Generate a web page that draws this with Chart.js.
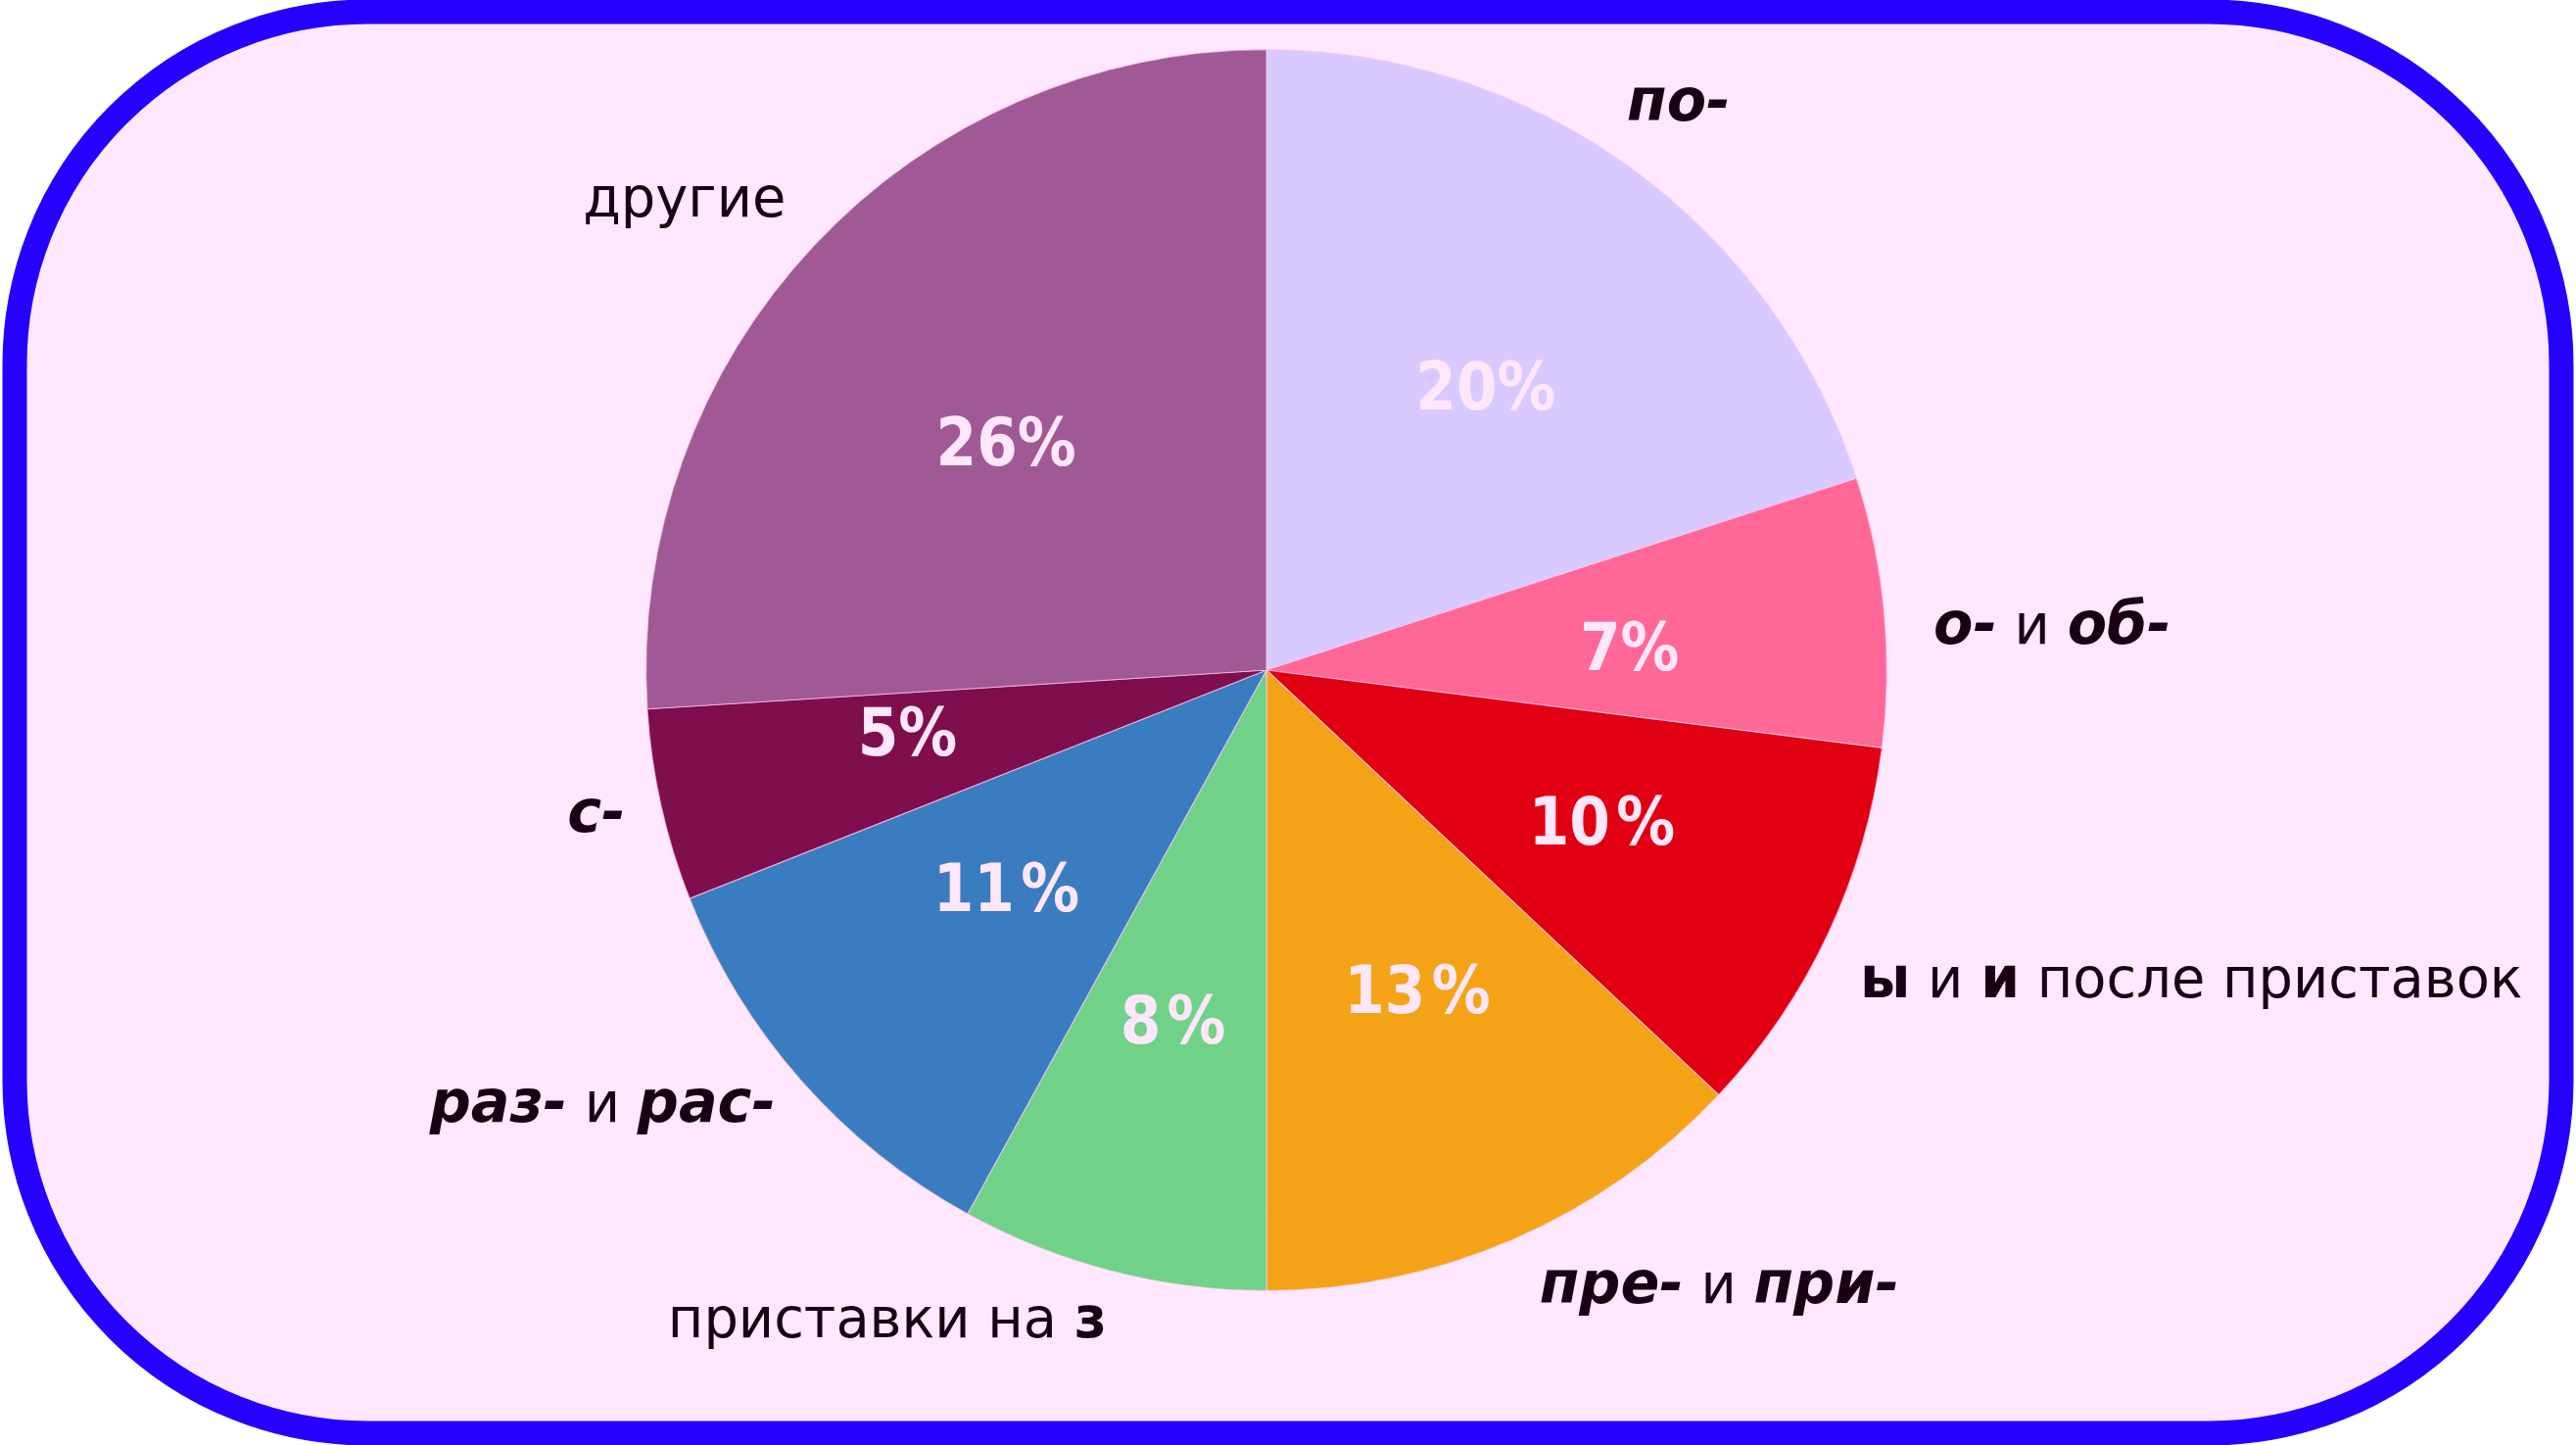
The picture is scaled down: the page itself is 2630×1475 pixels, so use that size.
<!DOCTYPE html>
<html><head><meta charset="utf-8">
<script src="https://cdn.jsdelivr.net/npm/chart.js@4"></script>
<style>html,body{margin:0;padding:0;background:#fff;overflow:hidden}canvas{display:block}</style>
</head><body>
<canvas id="c" width="2630" height="1475"></canvas>
<script>
// ---- data ----
const categories = ['по-', 'о- и об-', 'ы и и после приставок', 'пре- и при-', 'приставки на з', 'раз- и рас-', 'с-', 'другие'];
const values = [20, 7, 10, 13, 8, 11, 5, 26];
const percentLabels = ['20%', '7%', '10 %', '13 %', '8 %', '11 %', '5%', '26%'];

// ---- styling ----
const sliceColors = ['#d8caff', '#ff6896', '#e00012', '#f5a316', '#70d288', '#3a7cc0', '#7e0e4e', '#a05994'];
// per-word font style of each category label: bi = bold italic, b = bold, r = regular
const wordStyles = [
  ['bi'],
  ['bi', 'r', 'bi'],
  ['b', 'r', 'b', 'r', 'r'],
  ['bi', 'r', 'bi'],
  ['r', 'r', 'b'],
  ['bi', 'r', 'bi'],
  ['bi'],
  ['r']
];
// small hand nudges (px) of the outer labels and inner percentages
const labelNudge = [[-34, -23], [0, 22], [-13, 27], [7, 3], [7, 3], [12, -7], [13, 0], [8, -10]];
const pctNudge = [[8, 6], [5, 10], [10, -3], [8, -12], [-4, 0], [10, -22], [-8, -18], [2, 18]];

const FAMILY = '"DejaVu Sans", "Noto Sans", sans-serif';
const fonts = {
  bi: 'italic bold 60px ' + FAMILY,
  b: 'bold 58px ' + FAMILY,
  r: '57px ' + FAMILY
};
const LABEL_SCALE_X = 0.98;
const PCT_SIZE = 68;
const PCT_FONT = 'bold ' + PCT_SIZE + 'px ' + FAMILY;
const PCT_SCALE_X = 0.88;
const LABEL_COLOR = '#1a0012';
const PCT_COLOR = '#ffe6fb';

const frame = {
  id: 'frame',
  beforeDraw(chart) {
    const ctx = chart.ctx;
    const W = chart.width, H = chart.height;
    ctx.save();
    ctx.fillStyle = '#ffffff';
    ctx.fillRect(0, 0, W, H);
    const x = 15, y = 12, w = W - 30, h = H - 24, r = 360;
    ctx.beginPath();
    ctx.moveTo(x + r, y);
    ctx.lineTo(x + w - r, y);
    ctx.arcTo(x + w, y, x + w, y + r, r);
    ctx.lineTo(x + w, y + h - r);
    ctx.arcTo(x + w, y + h, x + w - r, y + h, r);
    ctx.lineTo(x + r, y + h);
    ctx.arcTo(x, y + h, x, y + h - r, r);
    ctx.lineTo(x, y + r);
    ctx.arcTo(x, y, x + r, y, r);
    ctx.closePath();
    ctx.fillStyle = '#ffe8fe';
    ctx.fill();
    ctx.lineWidth = 25;
    ctx.strokeStyle = '#2600ff';
    ctx.stroke();
    ctx.restore();
  }
};

function drawRich(ctx, runs, x, y, align) {
  ctx.save();
  ctx.translate(x, y);
  ctx.scale(LABEL_SCALE_X, 1);
  ctx.textBaseline = 'alphabetic';
  ctx.textAlign = 'left';
  ctx.fillStyle = LABEL_COLOR;
  let total = 0;
  const widths = runs.map(([t, s]) => { ctx.font = fonts[s]; const m = ctx.measureText(t).width; total += m; return m; });
  let cx = align === 'right' ? -total : (align === 'center' ? -total / 2 : 0);
  const base = 0.27 * 58;
  runs.forEach(([t, s], i) => {
    ctx.font = fonts[s];
    ctx.fillText(t, cx, base);
    cx += widths[i];
  });
  ctx.restore();
}

function drawPct(ctx, text, x, y) {
  ctx.save();
  ctx.translate(x, y);
  ctx.scale(PCT_SCALE_X, 1);
  ctx.font = PCT_FONT;
  ctx.fillStyle = PCT_COLOR;
  ctx.textAlign = 'left';
  ctx.textBaseline = 'alphabetic';
  const parts = text.split(' ');
  const gap = 7;
  const ws = parts.map(p => ctx.measureText(p).width);
  const total = ws.reduce((a, b) => a + b, 0) + gap * (parts.length - 1);
  let cx = -total / 2;
  parts.forEach((p, i) => { ctx.fillText(p, cx, 0.365 * PCT_SIZE); cx += ws[i] + gap; });
  ctx.restore();
}

const labelsPlugin = {
  id: 'sliceLabels',
  afterDatasetsDraw(chart) {
    const ctx = chart.ctx;
    const meta = chart.getDatasetMeta(0);
    meta.data.forEach((arc, i) => {
      const p = arc.getProps(['x', 'y', 'startAngle', 'endAngle', 'outerRadius'], true);
      const mid = (p.startAngle + p.endAngle) / 2;
      const cos = Math.cos(mid), sin = Math.sin(mid);
      const ri = p.outerRadius * 0.58;
      drawPct(ctx, percentLabels[i], p.x + cos * ri + pctNudge[i][0], p.y + sin * ri + pctNudge[i][1]);
      const ro = p.outerRadius * 1.08;
      const words = categories[i].split(' ');
      const runs = [];
      words.forEach((w, j) => {
        if (j > 0) runs.push([' ', 'r']);
        runs.push([w, wordStyles[i][j]]);
      });
      drawRich(ctx, runs, p.x + cos * ro + labelNudge[i][0], p.y + sin * ro + labelNudge[i][1], cos >= 0 ? 'left' : 'right');
    });
  }
};

new Chart(document.getElementById('c'), {
  type: 'pie',
  data: {
    labels: categories,
    datasets: [{
      data: values,
      backgroundColor: sliceColors,
      borderColor: 'rgba(255,200,240,0.7)',
      borderWidth: 1.2
    }]
  },
  options: {
    responsive: false,
    animation: false,
    rotation: 0,
    layout: { padding: { top: 50, bottom: 157, left: 0, right: 44 } },
    plugins: { legend: { display: false }, tooltip: { enabled: false } }
  },
  plugins: [frame, labelsPlugin]
});
</script>
</body></html>
